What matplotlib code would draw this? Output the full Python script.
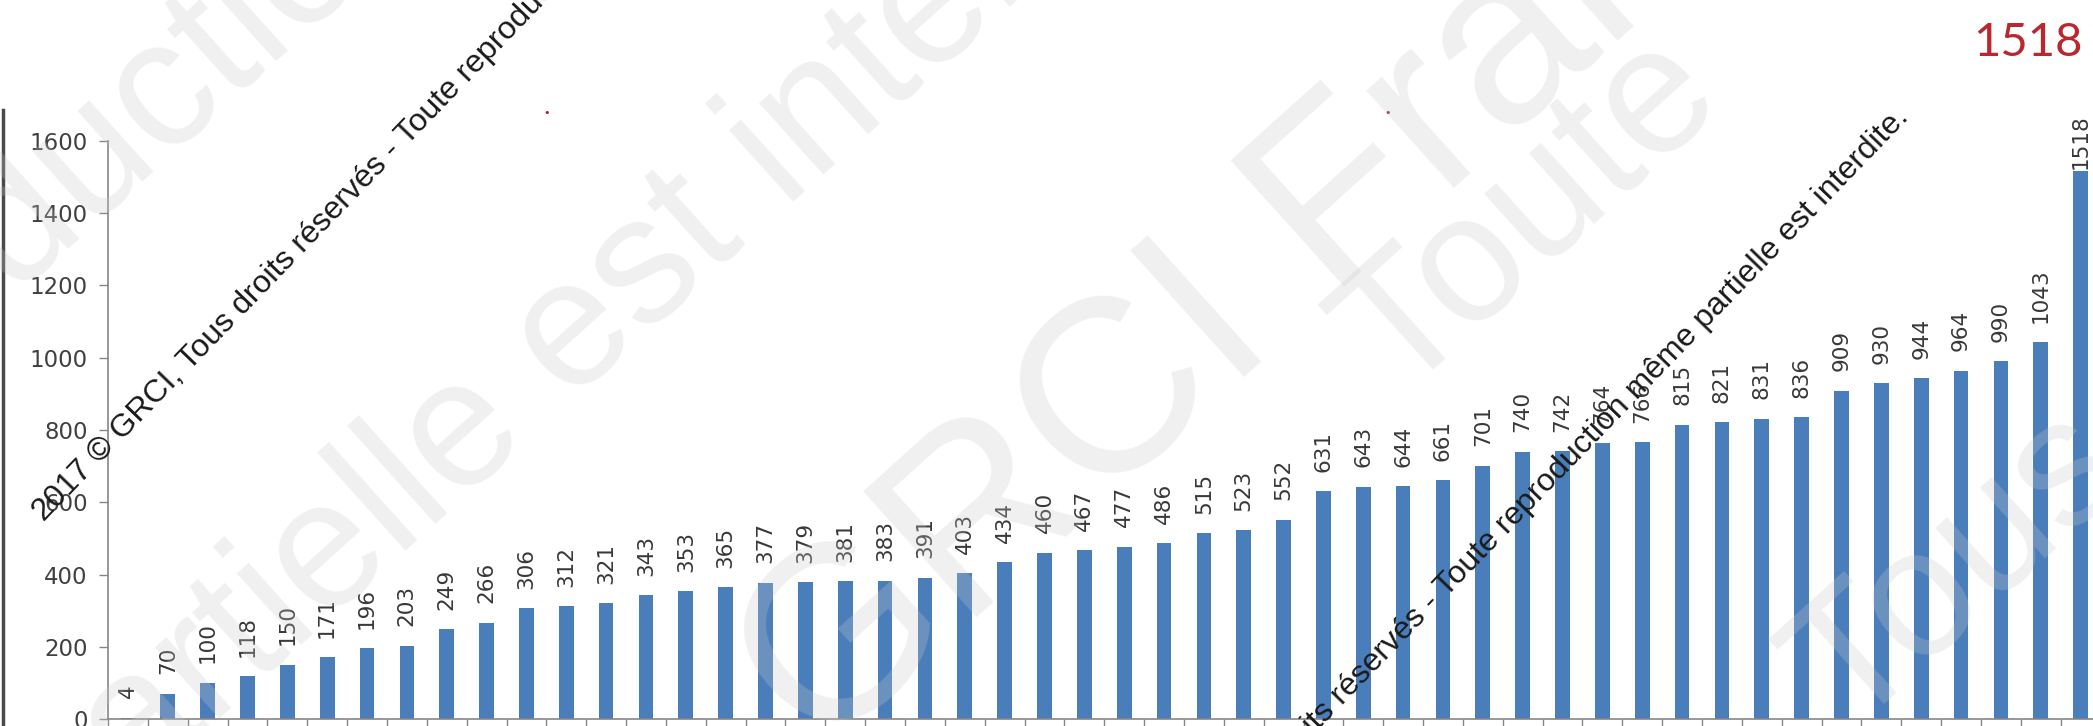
import numpy as np
import matplotlib.pyplot as plt
from matplotlib.lines import Line2D

# sorted counts, one bar per category
values = [4, 70, 100, 118, 150, 171, 196, 203, 249, 266,
          306, 312, 321, 343, 353, 365, 377, 379, 381, 383,
          391, 403, 434, 460, 467, 477, 486, 515, 523, 552,
          631, 643, 644, 661, 701, 740, 742, 764, 766, 815,
          821, 831, 836, 909, 930, 944, 964, 990, 1043, 1518]
yticks = [0, 200, 400, 600, 800, 1000, 1200, 1400, 1600]
highlight = "1518"
copyright_txt = "2017 © GRCI, Tous droits réservés - Toute reproduction même partielle est interdite."
watermark_words = ["reproduction", "partielle est interdite", "GRCI France", "Toute", "Tous droits"]

W, H = 2093, 726


def fx(px):
    return px / W


def fy(py):
    return 1 - py / H


fig = plt.figure(figsize=(W / 100, H / 100), dpi=100)
fig.patch.set_facecolor('white')

# axes run a little past the right edge, last category is cut
ax = fig.add_axes([fx(108), 7 / H, 50 * 39.85 / W, 578 / H])
x = np.arange(len(values))
ax.bar(x, values, width=0.37, color='#4a7ebb', zorder=2)
ax.set_xlim(-0.5, len(values) - 0.5)
ax.set_ylim(0, 1600)
ax.set_yticks(yticks)
ax.set_xticks(np.arange(len(values) + 1) - 0.5)
ax.set_xticklabels([])
ax.tick_params(axis='y', direction='out', length=6.5, width=1, color='#868686',
               labelsize=16.5, labelcolor='#404040', pad=8)
ax.tick_params(axis='x', direction='out', length=5, width=1, color='#868686')
for s in ['top', 'right']:
    ax.spines[s].set_visible(False)
for s in ['left', 'bottom']:
    ax.spines[s].set_color('#868686')
    ax.spines[s].set_linewidth(1.2)

top = max(values)
for xi, v in zip(x, values):
    off = 1 if v == top else 14
    ax.annotate(str(v), (xi, v), xytext=(0, off), textcoords='offset points',
                rotation=90, ha='center', va='bottom', fontsize=15.5, color='#383838')

# frame line on the left
fig.add_artist(Line2D([fx(3), fx(3)], [0, fy(110)], color='#4a4a4a', lw=2.5))

# red headline value and leftover title marks
fig.text(fx(2083), fy(56), highlight, ha='right', va='baseline', fontsize=34,
         family='Lato', color='#b8282e')
fig.text(fx(547), fy(113), '•', ha='center', va='center', fontsize=8, color='#a0202a')
fig.text(fx(1388), fy(113), '•', ha='center', va='center', fontsize=8, color='#a0202a')

# large faint watermark
wm = dict(rotation=42, rotation_mode='anchor', fontsize=130, family='Liberation Sans',
          color='#c8c8c8', alpha=0.27, ha='center', va='center', zorder=10)
fig.text(fx(40), fy(200), watermark_words[0], **wm)
fig.text(fx(630), fy(285), watermark_words[1], **wm)
fig.text(fx(820), fy(760), watermark_words[2], **{**wm, 'ha': 'left', 'va': 'baseline', 'fontsize': 178})
fig.text(fx(1530), fy(215), watermark_words[3], **wm)
fig.text(fx(1850), fy(735), watermark_words[4], **{**wm, 'ha': 'left', 'va': 'baseline'})

# dark copyright lines
cp = dict(rotation=46, rotation_mode='anchor', fontsize=23, family='Liberation Sans',
          color='#1a1a1a', va='baseline', zorder=11)
fig.text(fx(44), fy(522), copyright_txt, ha='left', **cp)
fig.text(fx(1910), fy(118), copyright_txt, ha='right', **cp)

fig.savefig('out.png', dpi=100)
